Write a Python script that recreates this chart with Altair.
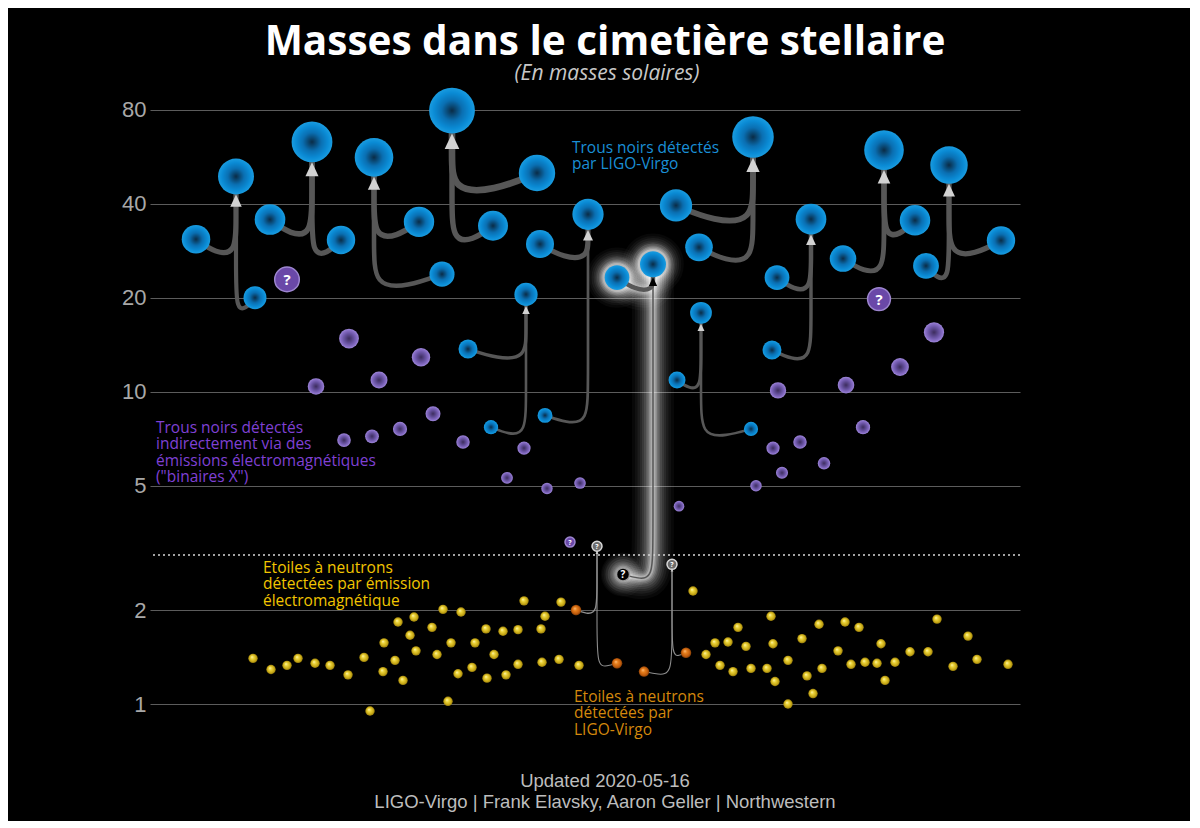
import math
import altair as alt
import pandas as pd

# ------------------------------------------------------------------ data
# Mergers seen by LIGO-Virgo: remnant + two progenitors (horizontal position, mass in solar masses)
EVENT    = ["GW170104", "GW150914", "GW170809", "GW170729", "GW151226", "GW190412", "GW190814",
            "GW170823", "GW170608", "GW151012", "GW170818", "GW170814", "GW190425", "GW170817"]
REM_POS  = [86, 162, 224, 302, 376, 438, 503, 603, 551, 661, 734, 799, 447, 522]
REM_M    = [48.9, 63.1, 56.3, 79.5, 20.5, 37.0, 25.6, 65.4, 17.9, 35.7, 59.4, 53.2, 3.2, 2.8]
REM_KIND = ["bh"] * 12 + ["q_gris", "q_gris"]
P1_POS   = [46, 120, 269, 387, 318, 390, 467, 526, 527, 627, 765, 851, 426, 494]
P1_M     = [30.8, 35.6, 35.0, 50.2, 13.7, 29.7, 23.2, 39.5, 10.9, 23.2, 35.4, 30.5, 2.0, 1.27]
P1_KIND  = ["bh"] * 12 + ["ns_ligo"] * 2
P2_POS   = [105, 191, 292, 343, 341, 395, 473, 549, 601, 622, 693, 776, 467, 536]
P2_M     = [20.0, 30.6, 23.8, 34.0, 7.7, 8.4, 2.6, 29.0, 7.6, 13.6, 26.7, 25.3, 1.35, 1.46]
P2_KIND  = ["bh"] * 6 + ["q_noir"] + ["bh"] * 5 + ["ns_ligo"] * 2
GLOW_EVENT = "GW190814"

# X-ray binaries (black holes seen electromagnetically)
XRB_POS = [199, 271, 166, 229, 283, 194, 222, 250, 313, 374, 357, 397, 430,
           784, 750, 696, 628, 713, 650, 623, 674, 632, 606, 529]
XRB_M   = [14.8, 12.9, 10.4, 10.9, 8.5, 7.0, 7.2, 7.6, 6.9, 6.6, 5.3, 4.9, 5.1,
           15.5, 12.0, 10.5, 10.1, 7.7, 6.9, 6.6, 5.9, 5.5, 5.0, 4.3]

# uncertain objects ("?")
QV_POS = [137, 729, 420]
QV_M   = [22.9, 19.8, 3.3]

# neutron stars seen electromagnetically
NS_POS = [103, 121, 137, 148, 165, 180, 198, 214, 220, 233, 234, 245, 248, 253, 260, 264, 266,
          282, 287, 293, 298, 301, 308, 311, 322, 325, 336, 337, 344, 353, 356, 368, 368, 374,
          391, 395, 392, 409, 411, 429,
          543, 556, 565, 570, 578, 583, 588, 596, 601, 617, 621, 623, 625, 638, 638, 652, 657,
          663, 669, 672, 688, 695, 701, 709, 715, 727, 731, 735, 745, 760, 778, 787, 803, 818,
          827, 858]
NS_M   = [1.40, 1.29, 1.33, 1.40, 1.35, 1.33, 1.24, 1.41, 0.95, 1.27, 1.57, 1.38, 1.83, 1.19,
          1.66, 1.90, 1.48, 1.76, 1.44, 2.01, 1.02, 1.57, 1.25, 1.97, 1.31, 1.57, 1.74, 1.21,
          1.44, 1.71, 1.24, 1.73, 1.34, 2.14, 1.74, 1.91, 1.36, 1.39, 2.12, 1.33,
          2.30, 1.44, 1.57, 1.33, 1.58, 1.27, 1.76, 1.53, 1.30, 1.30, 1.91, 1.56, 1.18, 1.38,
          1.00, 1.62, 1.23, 1.08, 1.80, 1.30, 1.48, 1.83, 1.34, 1.76, 1.36, 1.35, 1.56, 1.19,
          1.36, 1.47, 1.47, 1.87, 1.32, 1.65, 1.39, 1.34]

TICKS = [1, 2, 5, 10, 20, 40, 80]
TITLE = "Masses dans le cimetière stellaire"
SUBTITLE = "(En masses solaires)"
FOOT1 = "Updated 2020-05-16"
FOOT2 = "LIGO-Virgo | Frank Elavsky, Aaron Geller | Northwestern"
LBL_TEXT = ["Trous noirs détectés\npar LIGO-Virgo",
            "Trous noirs détectés\nindirectement via des\némissions électromagnétiques\n(\"binaires X\")",
            "Etoiles à neutrons\ndétectées par émission\nélectromagnétique",
            "Etoiles à neutrons\ndétectées par\nLIGO-Virgo"]
LBL_POS = [422, 6, 113, 424]
LBL_M   = [58.2, 7.38, 2.63, 1.015]
LBL_COL = ["#1a8fd6", "#7f40d4", "#f2c500", "#d4880c"]

# ------------------------------------------------------------------ geometry
W, H = 870, 658
Y_LO, Y_HI = 2 ** -0.5, 2 ** 6.5
PX_OCT = H / math.log2(Y_HI / Y_LO)   # pixels per doubling of mass
K = 26.4                               # symbol size units per solar mass (area ~ mass)
BEND = 42                              # reach of the connector bend, px


def radius(m):
    return math.sqrt(K * m) / 2


def shift(m, px_up):
    """mass value px_up pixels above m on the log axis"""
    return m * 2 ** (px_up / PX_OCT)


nodes, links = [], []
for i, e in enumerate(EVENT):
    rx, rm = REM_POS[i], REM_M[i]
    nodes.append(dict(event=e, pos=rx, masse=rm, kind=REM_KIND[i], role="rem"))
    for pp, pm, pk in ((P1_POS[i], P1_M[i], P1_KIND[i]), (P2_POS[i], P2_M[i], P2_KIND[i])):
        nodes.append(dict(event=e, pos=pp, masse=pm, kind=pk, role="prog"))
        corner = shift(pm, -radius(pm))
        rise = (math.log2(rm) - math.log2(corner)) * PX_OCT
        hx = rx + math.copysign(min(BEND, abs(pp - rx) * 0.5), pp - rx)
        vm = shift(corner, min(BEND, rise * 0.45))
        lk = "ns" if pk == "ns_ligo" else "bh"
        lid = f"{e}-{pp}"
        pts = [(pp, pm), (hx, corner), (rx, corner), (rx, vm), (rx, rm)]
        for step, (x, y) in enumerate(pts):
            links.append(dict(link=lid, event=e, step=step, pos=x, masse=y, pm=pm, lk=lk))
nodes = pd.DataFrame(nodes)
links = pd.DataFrame(links)

qdf = pd.concat([
    pd.DataFrame(dict(pos=QV_POS, masse=QV_M, kind=["q_violet", "q_violet", "q_violet_s"])),
    nodes[nodes.kind.isin(["q_gris", "q_noir"])][["pos", "masse", "kind"]],
], ignore_index=True)

xs = alt.Scale(domain=[0, W])
ys = alt.Scale(type="log", base=2, domain=[Y_LO, Y_HI], nice=False)
szs = alt.Scale(domain=[0, 80], range=[0, 80 * K])

XE = alt.X("pos:Q", scale=xs, axis=None)
YE = alt.Y("masse:Q", scale=ys, title=None,
           axis=alt.Axis(values=TICKS, format="d", domain=False, ticks=False, grid=True,
                         gridColor="#5c5c5c", gridWidth=1, labelFont="Liberation Sans",
                         labelFontSize=22, labelColor="#a8a8a8", labelPadding=4))
SE = alt.Size("masse:Q", scale=szs, legend=None)


def radial(stops, fx=0.5, fy=0.5):
    return {"gradient": "radial", "x1": fx, "y1": fy, "r1": 0, "x2": 0.5, "y2": 0.5, "r2": 0.5,
            "stops": [{"offset": o, "color": c} for o, c in stops]}


BLUE = radial([(0, "#0a2b45"), (0.45, "#0a6fb2"), (0.78, "#0a8bd5"), (1, "#1a9ce0")])
PURPLE = radial([(0, "#3b2c5c"), (0.55, "#6b55a6"), (0.85, "#8a70c8"), (1, "#a08adb")])
YELLOW = radial([(0, "#fff8b8"), (0.35, "#ecd43a"), (0.8, "#c4a414"), (1, "#8c740a")], 0.38, 0.34)
ORANGE = radial([(0, "#ffc488"), (0.35, "#e8801c"), (0.8, "#bf5a0c"), (1, "#7a3a06")], 0.38, 0.34)

layers = []

# ---- soft glow around GW190814
glow_links = links[links.event == GLOW_EVENT]
glow_nodes = nodes[nodes.event == GLOW_EVENT]
GLOW = [(42, 0.03), (36, 0.04), (31, 0.05), (26, 0.06), (22, 0.07), (18, 0.09), (14, 0.11),
        (11, 0.14), (8, 0.18), (5, 0.28)]
for w, op in GLOW:
    layers.append(alt.Chart(glow_links).mark_line(
        interpolate="basis", stroke="white", strokeWidth=w, opacity=op, strokeCap="round"
    ).encode(x=XE, y=YE, detail="link:N", order="step:Q"))
    layers.append(alt.Chart(glow_nodes).mark_circle(
        filled=False, stroke="white", strokeWidth=w * 0.85, strokeOpacity=op, opacity=1
    ).encode(x=XE, y=YE, size=SE))

# ---- dotted limit
layers.append(alt.Chart(pd.DataFrame({"masse": [3]})).mark_rule(
    stroke="#d8d8d8", strokeDash=[2, 3], strokeWidth=1.5).encode(y=alt.Y("masse:Q", scale=ys)))

# ---- connectors
layers.append(alt.Chart(links).mark_line(interpolate="basis", strokeCap="round").encode(
    x=XE, y=YE, detail="link:N", order="step:Q",
    color=alt.Color("lk:N", scale=alt.Scale(domain=["bh", "ns"], range=["#575757", "#8e8e8e"]),
                    legend=None),
    strokeWidth=alt.StrokeWidth("pm:Q", scale=alt.Scale(type="sqrt", domain=[0, 36], range=[0, 5.6]),
                                legend=None)))

# ---- arrowheads (touching the bottom of each remnant)
ARROW = "M0,1 L0.32,1.68 L-0.32,1.68 Z"
rem = nodes[nodes.role == "rem"]
layers.append(alt.Chart(rem[rem.event != GLOW_EVENT]).mark_point(
    shape=ARROW, filled=True, fill="#d2d2d2", strokeWidth=0, opacity=1).encode(x=XE, y=YE, size=SE))
layers.append(alt.Chart(rem[rem.event == GLOW_EVENT]).mark_point(
    shape=ARROW, filled=True, fill="#000000", strokeWidth=0, opacity=1).encode(x=XE, y=YE, size=SE))

# ---- X-ray binaries
layers.append(alt.Chart(pd.DataFrame(dict(pos=XRB_POS, masse=XRB_M))).mark_circle(
    fill=PURPLE, opacity=1).encode(x=XE, y=YE, size=SE))

# ---- neutron stars
layers.append(alt.Chart(pd.DataFrame(dict(pos=NS_POS, masse=NS_M))).mark_circle(
    fill=YELLOW, opacity=1, size=88).encode(x=XE, y=YE))
layers.append(alt.Chart(nodes[nodes.kind == "ns_ligo"]).mark_circle(
    fill=ORANGE, opacity=1, size=110).encode(x=XE, y=YE))

# ---- LIGO-Virgo black holes
layers.append(alt.Chart(nodes[nodes.kind == "bh"]).mark_circle(
    fill=BLUE, opacity=1).encode(x=XE, y=YE, size=SE))

# ---- question marks (large ones sized by mass, small ones fixed)
for kinds, fill, stroke, fs, fixed in [(["q_violet"], "#6a48a8", "#9d86cf", 15, None),
                                       (["q_violet_s"], "#6a48a8", "#9d86cf", 7, 100),
                                       (["q_gris"], "#6c6c6c", "#d8d8d8", 7, 100),
                                       (["q_noir"], "#000000", "#9a9a9a", 10, 170)]:
    d = qdf[qdf.kind.isin(kinds)].assign(t="?")
    if fixed is None:
        circ = alt.Chart(d).mark_circle(fill=fill, stroke=stroke, strokeWidth=1.5, opacity=1
                                        ).encode(x=XE, y=YE, size=SE)
    else:
        circ = alt.Chart(d).mark_circle(fill=fill, stroke=stroke, strokeWidth=1.5, opacity=1,
                                        size=fixed).encode(x=XE, y=YE)
    layers.append(circ)
    layers.append(alt.Chart(d).mark_text(
        font="Open Sans", fontWeight="bold", fontSize=fs, color="white", baseline="middle", dy=1
    ).encode(x=XE, y=YE, text="t:N"))

# ---- category labels
lbl = pd.DataFrame(dict(pos=LBL_POS, masse=LBL_M, t=LBL_TEXT, c=LBL_COL))
layers.append(alt.Chart(lbl).mark_text(
    font="Open Sans", fontSize=15.5, align="left", baseline="alphabetic", lineBreak="\n",
    lineHeight=16.5
).encode(x=XE, y=YE, text="t:N", color=alt.Color("c:N", scale=None)))


# ---- title, subtitle, credits
def ptext(txt, x, y, **kw):
    return alt.Chart(pd.DataFrame({"t": [txt]})).mark_text(**kw).encode(
        text="t:N", x=alt.value(x), y=alt.value(y))


layers.append(ptext(TITLE, 455, -38, font="Open Sans", fontWeight="bold", fontSize=40.5,
                    color="white", align="center", baseline="alphabetic"))
layers.append(ptext(SUBTITLE, 457, -13, font="Open Sans", fontStyle="italic", fontSize=21,
                    color="#c8c8c8", align="center", baseline="alphabetic"))
layers.append(ptext(FOOT1, 455, 694, font="Liberation Sans", fontSize=18.5, color="#bdbdbd",
                    align="center", baseline="alphabetic"))
layers.append(ptext(FOOT2, 455, 715, font="Liberation Sans", fontSize=18.5, color="#bdbdbd",
                    align="center", baseline="alphabetic"))

chart = alt.layer(*layers).properties(
    width=W, height=H,
    autosize=alt.AutoSizeParams(type="none"),
    padding={"left": 142, "top": 85, "right": 170, "bottom": 70},
).configure(background="black").configure_view(strokeWidth=0)

chart.save("out.html", embed_options={"renderer": "svg", "actions": False})
